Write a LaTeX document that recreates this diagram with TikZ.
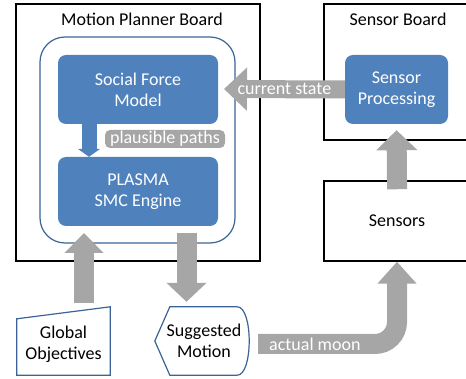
\documentclass[tikz,border=0pt]{standalone}
\usepackage{fontspec}
\setmainfont{Carlito}
\usetikzlibrary{arrows.meta}
\definecolor{boxblue}{HTML}{4F81BD}
\definecolor{edgeblue}{HTML}{3A6496}
\definecolor{arrowgray}{HTML}{A6A6A6}

\begin{document}
\begin{tikzpicture}[x=1pt,y=-1pt,
every node/.style={font=\fontsize{18}{21}\selectfont, align=center},
board/.style={draw, line width=1.5pt, inner sep=0pt},
proc/.style={fill=boxblue, text=white, rounded corners=8pt, inner sep=0pt,
  minimum height=69pt},
outl/.style={draw=edgeblue, line width=1.2pt},
fat/.style={arrowgray, line width=20pt, -{Triangle[length=20pt,width=40pt]}},
tag/.style={text=white, inner sep=0pt}]

\useasboundingbox (0,0) rectangle (466,379);
\clip (0,0) rectangle (466,379);

% boards
\node[board, minimum width=244pt, minimum height=257pt] (mpb) at (138,132.5) {};
\node (mpbtitle) at (142,19) {Motion Planner Board};
\node[board, minimum width=146pt, minimum height=136pt] (sb) at (397,72) {};
\node (sbtitle) at (398,19) {Sensor Board};
\node[board, minimum width=146pt, minimum height=80pt] (sen) at (397,221) {Sensors};

% planner blocks
\node[outl, rounded corners=25pt, minimum width=195pt, minimum height=206pt] (core) at (137.5,140) {};
\node[proc, minimum width=160pt] (sfm) at (138,89.5) {Social Force\\Model};
\node[proc, minimum width=160pt] (smc) at (138,191.5) {PLASMA\\SMC Engine};
\node[proc, minimum width=103pt] (sp) at (396.5,89.5) {Sensor\\Processing};

\draw[boxblue, line width=15pt, -{Triangle[length=8pt,width=22pt]}]
  ([xshift=-49pt]sfm.south) -- ([xshift=-49pt]smc.north);
\node[fill=arrowgray, tag, rounded corners=5pt, minimum width=120pt, minimum height=18pt]
  (pp) at (165,139) {plausible paths};

% inputs and outputs
\node[minimum width=93pt, minimum height=62pt, inner sep=0pt] (go) at (63.5,344) {Global\\Objectives};
\draw[outl] (go.south west) -- (go.south east) -- ([yshift=6pt]go.north east)
  -- ([yshift=-6pt]go.north west) -- cycle;
\node[minimum width=94pt, minimum height=68pt, inner sep=0pt] (sm) at (202,341) {\hspace*{4pt}Suggested\\\hspace*{4pt}Motion};
\draw[outl] (sm.west) -- ([xshift=15pt]sm.north west) -- ([xshift=-12pt]sm.north east)
  .. controls ([xshift=4pt]sm.north east) and ([xshift=4pt]sm.south east)
  .. ([xshift=-12pt]sm.south east) -- ([xshift=15pt]sm.south west) -- cycle;

\coordinate (csin) at (224,89);
\coordinate (goin) at (84,233);
\coordinate (smout) at (186.5,233);

% data flow
\draw[fat, line width=18pt, -{Triangle[length=23pt,width=42pt]}]
  (sp.west) -- node[tag]{current state} (csin);
\draw[fat, shorten <=-9pt, shorten >=6pt] (sen.north) -- (sp.south);
\draw[fat, -{Triangle[length=20pt,width=38pt]}] ([xshift=20.5pt,yshift=10pt]go.north) -- (goin);
\draw[fat, -{Triangle[length=19pt,width=39pt]}] (smout) -- ([xshift=-15.5pt,yshift=5pt]sm.north);
\draw[fat, -{Triangle[length=22pt,width=38pt]}, rounded corners=22pt]
  ([xshift=9pt,yshift=-3pt]sm.east) -| node[tag, pos=0, anchor=west, xshift=1pt]{actual moon} (sen.south);

\end{tikzpicture}
\end{document}
